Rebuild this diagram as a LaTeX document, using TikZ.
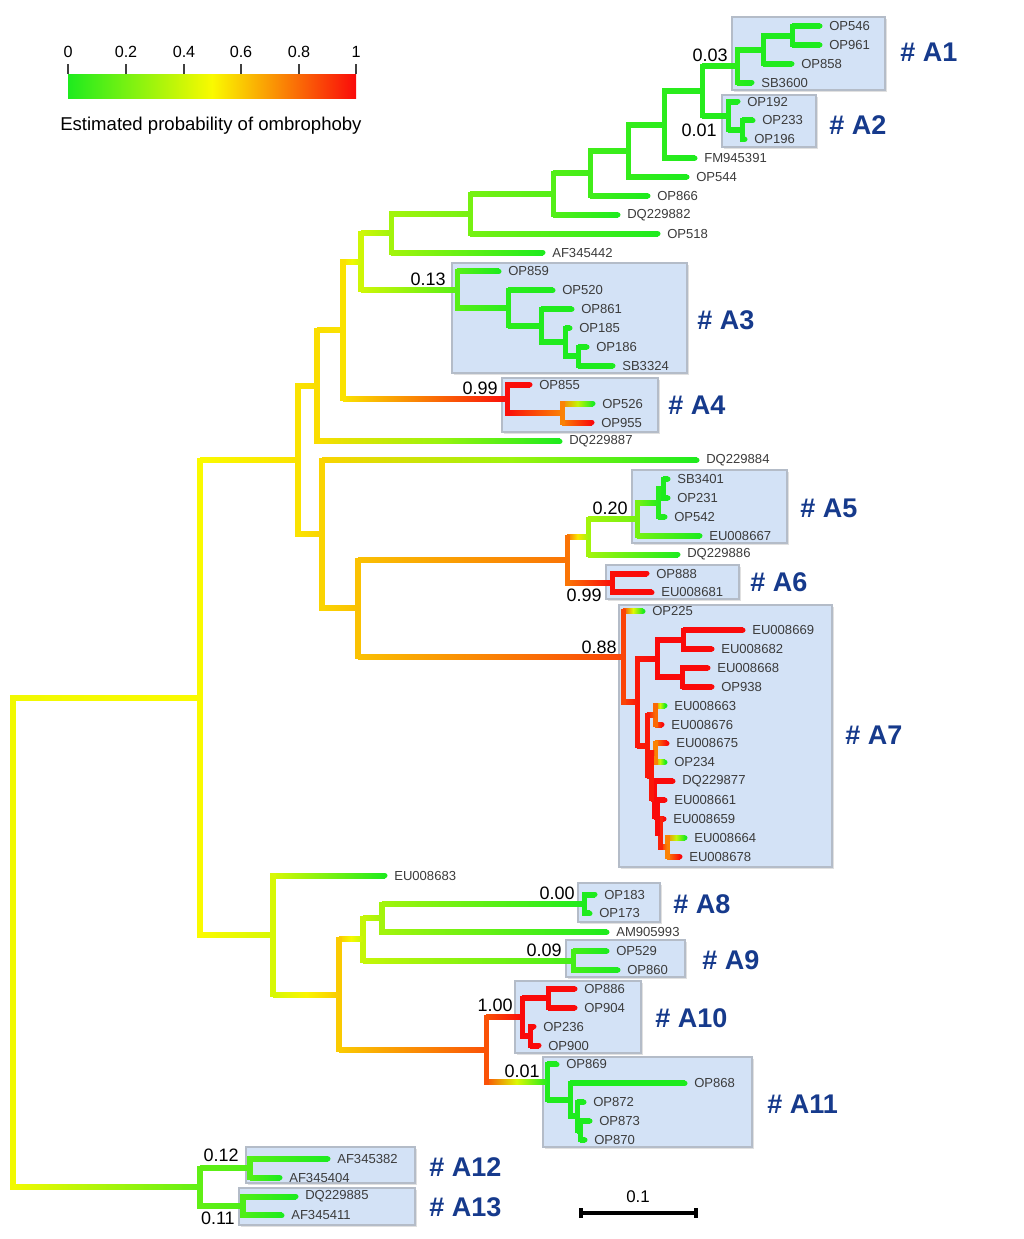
\documentclass[tikz,border=0pt]{standalone}
\usepackage{fontspec}
\setmainfont{Liberation Sans}
\usepackage{tikz}
\usetikzlibrary{calc}
\definecolor{pgrn}{RGB}{30,235,30}
\definecolor{pyel}{RGB}{250,250,0}
\definecolor{pred}{RGB}{250,10,10}
\definecolor{boxblue}{RGB}{211,226,246}
\definecolor{boxedge}{RGB}{180,188,200}
\definecolor{cladeblue}{RGB}{22,58,140}
\definecolor{lblgray}{RGB}{60,60,60}
\tikzstyle{vbar}=[line width=3.56pt,line cap=rect]
\tikzstyle{leaflbl}=[anchor=west,inner sep=0pt,text=lblgray,
                     font=\fontsize{9.3}{11}\selectfont]
\tikzstyle{bsval}=[anchor=east,inner sep=0pt,
                   font=\fontsize{12.8}{15}\selectfont]
\tikzstyle{cladelbl}=[anchor=west,inner sep=0pt,text=cladeblue,
                      font=\fontsize{19.2}{22}\selectfont\bfseries]
\tikzstyle{cladebox}=[fill=boxblue,draw=boxedge,line width=0.8pt]
\tikzstyle{ticklbl}=[inner sep=0pt,font=\fontsize{11.5}{13}\selectfont]
\tikzstyle{sbar}=[line width=2.8pt,black]

% colour of a probability: green (0) - yellow (0.5) - red (1)
\newcommand{\setpcol}[2]{%
  \pgfmathsetmacro{\pval}{#2}%
  \ifdim\pval pt<0.5pt
    \pgfmathtruncatemacro{\pmix}{round(\pval*200)}%
    \colorlet{#1}{pyel!\pmix!pgrn}%
  \else
    \pgfmathtruncatemacro{\pmix}{round((\pval-0.5)*200)}%
    \colorlet{#1}{pred!\pmix!pyel}%
  \fi}
\newcommand{\tnode}[4]{%
  \coordinate (#1) at (#2,#3);
  \expandafter\def\csname pr#1\endcsname{#4}}
\newcommand{\leafnode}[4]{%
  \tnode{#1}{#2}{#3}{#4}
  \setpcol{ctip}{#4}\fill[ctip] (#1) circle[radius=1.78pt];
  \node (l#1) at ($(#1)+(9,0)$) [leaflbl] {#1};}
\newcommand{\tbranch}[2]{%
  \setpcol{cpar}{\csname pr#1\endcsname}%
  \setpcol{cchd}{\csname pr#2\endcsname}%
  \setpcol{cmid}{(\csname pr#1\endcsname+\csname pr#2\endcsname)/2}%
  \shade[left color=cpar,right color=cchd,middle color=cmid]
    ($(#1|-#2)+(0,-2.5)$) rectangle ($(#2)+(0,2.5)$);
  \draw[vbar,cpar] (#1) -- (#1|-#2);}

\begin{document}
\begin{tikzpicture}[x=0.025cm,y=-0.025cm]
  \fill[white] (0,0) rectangle (1024,1239);
  \useasboundingbox (0,0) rectangle (1024,1239);

  % legend
  \shade[left color=pgrn,right color=pred,middle color=pyel] (68,74) rectangle (356,98);
  \foreach \v/\x in {0/68,0.2/126,0.4/184,0.6/241,0.8/299,1/356}{
    \draw[black!75,line width=0.8pt] (\x,64) -- (\x,74);
    \node (tk\x) at (\x,52) [ticklbl] {\v};
  }
  \node (legtitle) at (60,130) [anchor=base west,inner sep=0pt,
    font=\fontsize{13.2}{15}\selectfont] {Estimated probability of ombrophoby};

  % clade boxes
  \foreach \xa/\ya/\xb/\yb in {732/17/885/90, 722/95/816/147, 452/263/687/373,
      502/378/658/432, 632/470/787/543, 606/565/739/599, 619/605/832/867,
      578/883/660/922, 566/940/685/977, 515/981/641/1053, 543/1057/752/1147,
      246/1147/415/1183, 239/1188/415/1225}{
    \fill[black!12] (\xa+2,\ya+2) rectangle (\xb+2,\yb+2);
    \draw[cladebox] (\xa,\ya) rectangle (\xb,\yb);
  }

  % leaves
  \leafnode{OP546}{820}{26.0}{0}
  \leafnode{OP961}{820}{44.9}{0}
  \leafnode{OP858}{792}{63.8}{0}
  \leafnode{SB3600}{752}{82.6}{0}
  \leafnode{OP192}{738}{101.5}{0}
  \leafnode{OP233}{753}{120.4}{0}
  \leafnode{OP196}{745}{139.3}{0}
  \leafnode{FM945391}{695}{158.2}{0}
  \leafnode{OP544}{687}{177.0}{0}
  \leafnode{OP866}{648}{195.9}{0}
  \leafnode{DQ229882}{618}{214.8}{0}
  \leafnode{OP518}{658}{233.7}{0}
  \leafnode{AF345442}{543}{252.6}{0}
  \leafnode{OP859}{499}{271.4}{0}
  \leafnode{OP520}{553}{290.3}{0}
  \leafnode{OP861}{572}{309.2}{0}
  \leafnode{OP185}{570}{328.1}{0}
  \leafnode{OP186}{587}{347.0}{0}
  \leafnode{SB3324}{613}{365.8}{0}
  \leafnode{OP855}{530}{384.7}{1}
  \leafnode{OP526}{593}{403.6}{0}
  \leafnode{OP955}{592}{422.5}{1}
  \leafnode{DQ229887}{560}{441.4}{0}
  \leafnode{DQ229884}{697}{460.2}{0}
  \leafnode{SB3401}{668}{479.1}{0}
  \leafnode{OP231}{668}{498.0}{0}
  \leafnode{OP542}{665}{516.9}{0}
  \leafnode{EU008667}{700}{535.8}{0}
  \leafnode{DQ229886}{678}{554.6}{0}
  \leafnode{OP888}{647}{573.5}{1}
  \leafnode{EU008681}{652}{592.4}{1}
  \leafnode{OP225}{643}{611.3}{0}
  \leafnode{EU008669}{743}{630.2}{1}
  \leafnode{EU008682}{712}{649.0}{1}
  \leafnode{EU008668}{708}{667.9}{1}
  \leafnode{OP938}{712}{686.8}{1}
  \leafnode{EU008663}{665}{705.7}{0}
  \leafnode{EU008676}{662}{724.6}{1}
  \leafnode{EU008675}{667}{743.4}{1}
  \leafnode{OP234}{665}{762.3}{0}
  \leafnode{DQ229877}{673}{781.2}{1}
  \leafnode{EU008661}{665}{800.1}{1}
  \leafnode{EU008659}{664}{819.0}{1}
  \leafnode{EU008664}{685}{837.8}{0}
  \leafnode{EU008678}{680}{856.7}{1}
  \leafnode{EU008683}{385}{875.6}{0}
  \leafnode{OP183}{595}{894.5}{0}
  \leafnode{OP173}{590}{913.4}{0}
  \leafnode{AM905993}{607}{932.2}{0}
  \leafnode{OP529}{607}{951.1}{0}
  \leafnode{OP860}{618}{970.0}{0}
  \leafnode{OP886}{575}{988.9}{1}
  \leafnode{OP904}{575}{1007.8}{1}
  \leafnode{OP236}{534}{1026.6}{1}
  \leafnode{OP900}{539}{1045.5}{1}
  \leafnode{OP869}{557}{1064.4}{0}
  \leafnode{OP868}{685}{1083.3}{0}
  \leafnode{OP872}{584}{1102.2}{0}
  \leafnode{OP873}{590}{1121.0}{0}
  \leafnode{OP870}{585}{1139.9}{0}
  \leafnode{AF345382}{328}{1158.8}{0}
  \leafnode{AF345404}{280}{1177.7}{0}
  \leafnode{DQ229885}{296}{1196.6}{0}
  \leafnode{AF345411}{282}{1215.4}{0}

  % inner nodes
  \tnode{a1}{792}{35.5}{0}
  \tnode{a2}{763}{49.6}{0.01}
  \tnode{A1}{737}{66.1}{0.03}
  \tnode{b1}{742}{129.9}{0}
  \tnode{A2}{728}{115.7}{0.01}
  \tnode{c1}{702}{90.9}{0.02}
  \tnode{c2}{664}{124.6}{0.03}
  \tnode{c3}{628}{150.8}{0.05}
  \tnode{c4}{590}{173.4}{0.08}
  \tnode{c5}{553}{194.1}{0.12}
  \tnode{c6}{470}{213.9}{0.2}
  \tnode{c7}{391}{233.3}{0.3}
  \tnode{d1}{578}{356.4}{0}
  \tnode{d2}{565}{342.3}{0}
  \tnode{d3}{541}{325.7}{0.01}
  \tnode{d4}{508}{308.0}{0.03}
  \tnode{A3}{457}{289.7}{0.13}
  \tnode{c8}{361}{261.5}{0.4}
  \tnode{e1}{562}{413.0}{0.75}
  \tnode{A4}{507}{398.9}{0.99}
  \tnode{c9}{343}{330.2}{0.55}
  \tnode{c10}{317}{385.8}{0.56}
  \tnode{f1}{663}{488.6}{0}
  \tnode{f2}{658}{502.7}{0.02}
  \tnode{A5}{637}{519.3}{0.2}
  \tnode{g1}{588}{537.0}{0.3}
  \tnode{A6}{612}{583.0}{0.99}
  \tnode{g2}{567}{560.0}{0.78}
  \tnode{h1}{683}{639.6}{1}
  \tnode{h2}{682}{677.3}{1}
  \tnode{h3}{657}{658.5}{1}
  \tnode{p1}{655}{715.2}{0.8}
  \tnode{p2}{655}{752.9}{0.75}
  \tnode{n1}{667}{847.3}{0.75}
  \tnode{n2}{660}{833.1}{0.95}
  \tnode{n3}{657}{816.6}{1}
  \tnode{n4}{654}{798.9}{1}
  \tnode{q1}{651}{775.9}{0.97}
  \tnode{r1}{647}{745.6}{0.97}
  \tnode{A7b}{637}{702.0}{0.97}
  \tnode{A7}{623}{656.7}{0.88}
  \tnode{g3}{358}{608.4}{0.62}
  \tnode{c11}{322}{534.3}{0.58}
  \tnode{c12}{298}{460.0}{0.55}
  \tnode{A8}{584}{904.0}{0}
  \tnode{i1}{382}{918.1}{0.3}
  \tnode{A9}{573}{960.6}{0.09}
  \tnode{i2}{363}{939.3}{0.38}
  \tnode{j1}{548}{998.4}{1}
  \tnode{j2}{530}{1036.0}{1}
  \tnode{A10}{522}{1017.2}{1}
  \tnode{k1}{580}{1130.5}{0}
  \tnode{k2}{577}{1116.3}{0}
  \tnode{k3}{570}{1099.8}{0}
  \tnode{A11}{547}{1082.1}{0.01}
  \tnode{i3}{486}{1049.6}{0.85}
  \tnode{i4}{339}{994.5}{0.6}
  \tnode{i5}{273}{935.0}{0.42}
  \tnode{c13}{200}{697.5}{0.5}
  \tnode{A12}{250}{1168.2}{0.12}
  \tnode{A13}{243}{1206.0}{0.11}
  \tnode{m1}{200}{1187.1}{0.15}
  \tnode{root}{13}{942.3}{0.48}

  % branches
  \foreach \pa/\ch in {a1/OP546, a1/OP961, a2/a1, a2/OP858, A1/a2, A1/SB3600,
      b1/OP233, b1/OP196, A2/OP192, A2/b1, c1/A1, c1/A2, c2/c1, c2/FM945391,
      c3/c2, c3/OP544, c4/c3, c4/OP866, c5/c4, c5/DQ229882, c6/c5, c6/OP518,
      c7/c6, c7/AF345442, d1/OP186, d1/SB3324, d2/OP185, d2/d1, d3/OP861, d3/d2,
      d4/OP520, d4/d3, A3/OP859, A3/d4, c8/c7, c8/A3, e1/OP526, e1/OP955,
      A4/OP855, A4/e1, c9/c8, c9/A4, c10/c9, c10/DQ229887,
      f1/SB3401, f1/OP231, f2/f1, f2/OP542, A5/f2, A5/EU008667, g1/A5,
      g1/DQ229886, A6/OP888, A6/EU008681, g2/g1, g2/A6,
      h1/EU008669, h1/EU008682, h2/EU008668, h2/OP938, h3/h1, h3/h2,
      p1/EU008663, p1/EU008676, p2/EU008675, p2/OP234, n1/EU008664,
      n1/EU008678, n2/EU008659, n2/n1, n3/EU008661, n3/n2, n4/DQ229877, n4/n3,
      q1/p2, q1/n4, r1/p1, r1/q1, A7b/h3, A7b/r1, A7/OP225, A7/A7b,
      g3/g2, g3/A7, c11/DQ229884, c11/g3, c12/c10, c12/c11,
      A8/OP183, A8/OP173, i1/A8, i1/AM905993, A9/OP529, A9/OP860, i2/i1, i2/A9,
      j1/OP886, j1/OP904, j2/OP236, j2/OP900, A10/j1, A10/j2,
      k1/OP873, k1/OP870, k2/OP872, k2/k1, k3/OP868, k3/k2, A11/OP869, A11/k3,
      i3/A10, i3/A11, i4/i2, i4/i3, i5/EU008683, i5/i4, c13/c12, c13/i5,
      A12/AF345382, A12/AF345404, A13/DQ229885, A13/AF345411, m1/A12, m1/A13,
      root/c13, root/m1}
    \tbranch{\pa}{\ch};

  % support values
  \node (bA1) at (728,55) [bsval] {0.03};
  \node (bA2) at (717,130) [bsval] {0.01};
  \node (bA3) at (446,279) [bsval] {0.13};
  \node (bA4) at (498,388) [bsval] {0.99};
  \node (bA5) at (628,508) [bsval] {0.20};
  \node (bA6) at (602,595) [bsval] {0.99};
  \node (bA7) at (617,647) [bsval] {0.88};
  \node (bA8) at (575,893) [bsval] {0.00};
  \node (bA9) at (562,950) [bsval] {0.09};
  \node (bA10) at (513,1005) [bsval] {1.00};
  \node (bA11) at (540,1071) [bsval] {0.01};
  \node (bA12) at (239,1155) [bsval] {0.12};
  \node (bA13) at (235,1218) [bsval] {0.11};

  % clade names
  \node (nA1) at (900,52) [cladelbl] {\# A1};
  \node (nA2) at (829,125) [cladelbl] {\# A2};
  \node (nA3) at (697,320) [cladelbl] {\# A3};
  \node (nA4) at (668,405) [cladelbl] {\# A4};
  \node (nA5) at (800,508) [cladelbl] {\# A5};
  \node (nA6) at (750,582) [cladelbl] {\# A6};
  \node (nA7) at (845,735) [cladelbl] {\# A7};
  \node (nA8) at (673,904) [cladelbl] {\# A8};
  \node (nA9) at (702,960) [cladelbl] {\# A9};
  \node (nA10) at (655,1018) [cladelbl] {\# A10};
  \node (nA11) at (767,1104) [cladelbl] {\# A11};
  \node (nA12) at (429,1167) [cladelbl] {\# A12};
  \node (nA13) at (429,1207) [cladelbl] {\# A13};

  % scale bar
  \coordinate (sbl) at (581,1213);
  \coordinate (sbr) at (696,1213);
  \draw[sbar] (sbl) -- (sbr);
  \draw[sbar] ($(sbl)+(0,-5)$) -- ($(sbl)+(0,5)$);
  \draw[sbar] ($(sbr)+(0,-5)$) -- ($(sbr)+(0,5)$);
  \node (sblbl) at (638,1197) [inner sep=0pt,font=\fontsize{12}{14}\selectfont] {0.1};
\end{tikzpicture}
\end{document}
